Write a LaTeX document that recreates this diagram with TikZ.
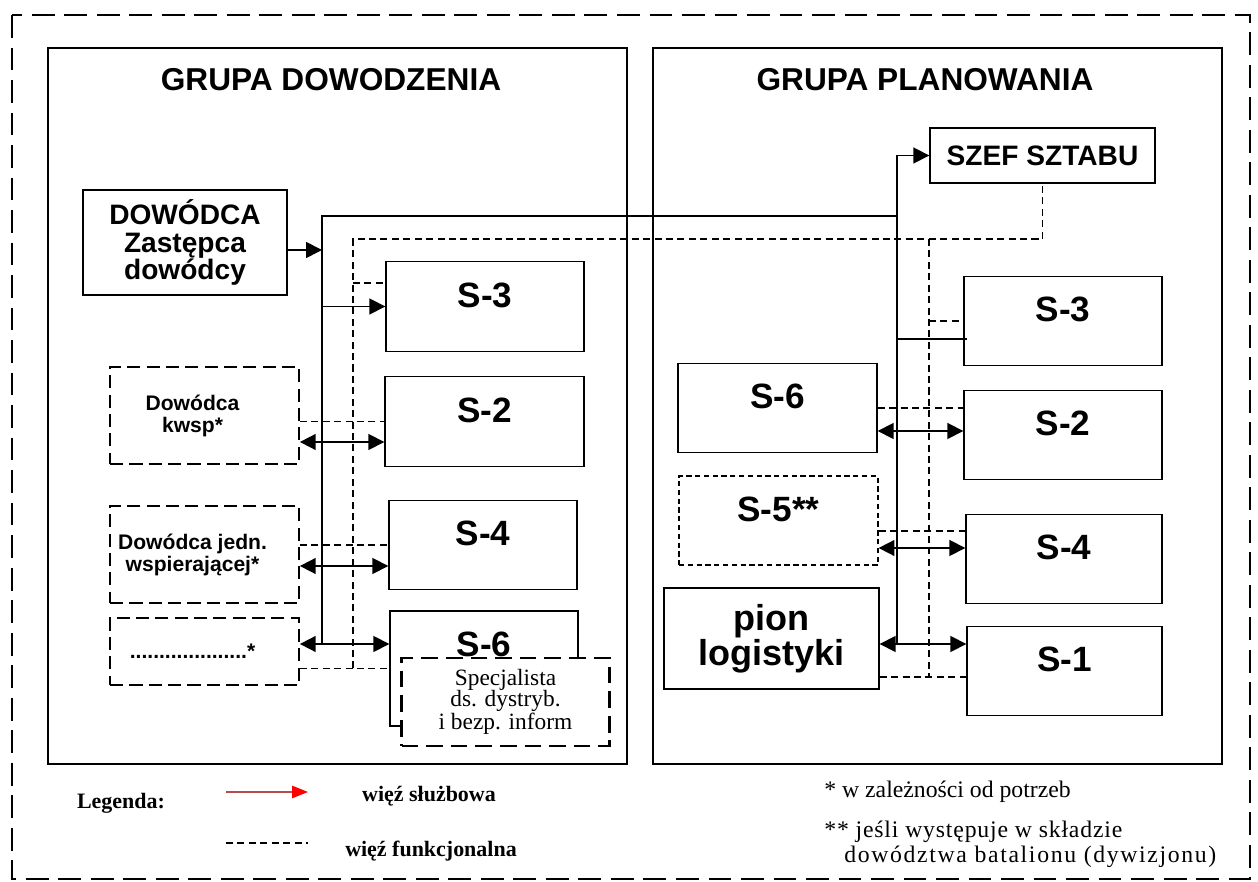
\documentclass[tikz,border=0pt]{standalone}
\usepackage{fontspec}
\setmainfont{Liberation Serif}
\setsansfont{Liberation Sans}
\usepackage{xcolor}
\usetikzlibrary{arrows.meta}
\definecolor{legred}{RGB}{185,75,75}
\newcommand{\fsz}[2]{\fontsize{#1}{#2}\selectfont}
\tikzset{
	box/.style={draw, line width=0.8pt, inner sep=0pt, font=\sffamily\bfseries},
	sbox/.style={box, font=\sffamily\bfseries\fsz{20}{22}, text height=14.3pt, text depth=13.6pt},
	dbox/.style={box, line width=1pt, dash pattern=on 7.5pt off 3.5pt},
	link/.style={line width=1pt},
	func/.style={line width=0.9pt, dash pattern=on 4pt off 2.5pt},
	title/.style={font=\sffamily\bfseries\fsz{18}{20}},
	legtext/.style={font=\rmfamily\bfseries\fsz{12.5}{14}},
	note/.style={anchor=west, inner sep=0pt, font=\rmfamily\fsz{13.5}{15}}
}

\begin{document}
\begin{tikzpicture}[x=0.2mm, y=-0.2mm, >={Triangle[length=9pt,width=9pt]}]
	\useasboundingbox (0,0) rectangle (1258,882);
	\draw[line width=1.5pt, dash pattern=on 13pt off 5.5pt] (12,15) rectangle (1250,879);
	\draw[line width=0.8pt] (48,48) rectangle (627,764);
	\draw[line width=0.8pt] (653,48) rectangle (1222,764);
	\node[title] (tdow) at (331,80) {GRUPA DOWODZENIA};
	\node[title] (tplan) at (925,80) {GRUPA PLANOWANIA};
	
	\node[box, align=center, font=\sffamily\bfseries\fsz{16}{15.6}, minimum width=40.8mm, minimum height=21mm] (dow) at (185,242.5) {DOWÓDCA\\Zastępca\\dowódcy};
	\node[box, font=\sffamily\bfseries\fsz{16}{18}, text height=11.5pt, text depth=0pt, minimum width=45mm, minimum height=11mm] (szef) at (1042.5,155.5) {SZEF SZTABU};
	
	\foreach \n/\t/\x/\y/\w in
	{ls3/S-3/485/306.5/39.6, ls2/S-2/484.5/421.5/39.8, ls4/S-4/483/545/37.6,
	 rs3/S-3/1063/321/39.6, rs2/S-2/1063/435/39.6, rs4/S-4/1064/559/39.2,
	 rs1/S-1/1064.5/671/39, rs6/S-6/777.5/408/39.8}{
		\node[sbox, minimum width=\w mm, minimum height=17.9mm] (\n) at (\x,\y) {\t};
	}
	\node[sbox, line width=0.7pt, dash pattern=on 3pt off 2pt, minimum width=39.8mm, minimum height=17.8mm] (rs5) at (778.5,520.5) {S-5**};
	\node[box, align=center, font=\sffamily\bfseries\fsz{20.5}{17}, minimum width=43mm, minimum height=20.2mm] (pion) at (771.5,638.5) {pion\\logistyki};
	
	\node[sbox, text depth=27.8pt, minimum width=37.6mm, minimum height=23mm] (ls6) at (484,668.5) {S-6};
	\node[box, fill=white, line width=1.3pt, dash pattern=on 9.5pt off 4.5pt, align=center, font=\rmfamily\fsz{13.3}{12.2}, minimum width=41.6mm, minimum height=17.6mm] (spec) at (505.5,702) {Specjalista\\ds. dystryb.\\i bezp. inform};
	
	\foreach \n/\t/\y/\h in
	{kwsp/{Dowódca\\kwsp*}/415.5/19.4, jedn/{Dowódca jedn.\\wspierającej*}/554.5/19.4, kropki/{....................*}/651.5/13.4}{
		\node[dbox, minimum width=37.8mm, minimum height=\h mm, label={[font=\sffamily\bfseries\fsz{12}{12.5}, align=center, xshift=-2.4mm]center:\t}] (\n) at (204.5,\y) {};
	}
	
	\coordinate (lbt) at (322,216);
	\coordinate (rbt) at (897,161);
	\coordinate (ldt) at (353,239);
	\coordinate (rdt) at (929,239);
	
	\foreach \s/\b/\dy in
	{ls2/kwsp/20.5, ls4/jedn/21, ls6/kropki/-24.5, rs2/rs6/-4, rs4/rs5/-11, rs1/pion/-27}{
		\path (\s.west) ++(0,\dy) coordinate (a\s);
		\draw[link, <->] (a\s -| \b.east) -- (a\s);
	}
	\path (rs3.west) ++(0,18) coordinate (ars3);
	\path (dow.east) ++(0,7.5) coordinate (adow);
	
	\draw[link] (als6 -| lbt) -- (lbt) -- (lbt -| rbt);
	\draw[link, ->] (ars1 -| rbt) |- (szef.west);
	\draw[link, ->] (adow) -- (adow -| lbt);
	\draw[link, ->] (lbt |- ls3.west) -- (ls3.west);
	\draw[link] (ars3 -| rbt) -- ([xshift=0.8mm]ars3);
	
	\path (ls3.west) ++(0,-23.5) coordinate (fls3);
	\path (rs4.west) ++(0,-28) coordinate (frs4);
	\path (rs1.west) ++(0,6) coordinate (frs1);
	\draw[func] (ls6.west -| ldt) -- (ldt) -| (szef.south);
	\draw[func] (kropki.east |- ls6.west) -- (ls6.west);
	\draw[func] (ldt |- fls3) -- (fls3);
	\draw[func] (kwsp.east |- ls2.west) -- (ls2.west);
	\draw[func] (jedn.east |- ls4.west) -- (ls4.west);
	\draw[func] (rdt) -- (rdt |- frs1);
	\draw[func] (frs1 -| pion.east) -- (frs1);
	\draw[func] (rdt |- rs3.west) -- (rs3.west);
	\draw[func] (rs6.east) -- (rs6.east -| rs2.west);
	\draw[func] (frs4 -| rs5.east) -- (frs4);
	
	\node[legtext] (leg) at (121,803) {Legenda:};
	\coordinate (sl1) at (226,792);
	\coordinate (sl2) at (308,792);
	\draw[line width=0.9pt, legred, -{Triangle[length=9pt,width=7pt,color=red]}] (sl1) -- (sl2);
	\node[legtext] (sluz) at (429,796) {więź służbowa};
	\coordinate (fl1) at (226,843);
	\coordinate (fl2) at (308,843);
	\draw[func] (fl1) -- (fl2);
	\node[legtext] (funk) at (431,851) {więź funkcjonalna};
	
	\node[note] (fn1) at (824,792) {* w zależności od potrzeb};
	\node[note] (fn2) at (824,832) {\addfontfeatures{LetterSpace=3.5}** jeśli występuje w składzie};
	\node[note] (fn3) at (844,857) {\addfontfeatures{LetterSpace=7}dowództwa batalionu (dywizjonu)};
\end{tikzpicture}
\end{document}
